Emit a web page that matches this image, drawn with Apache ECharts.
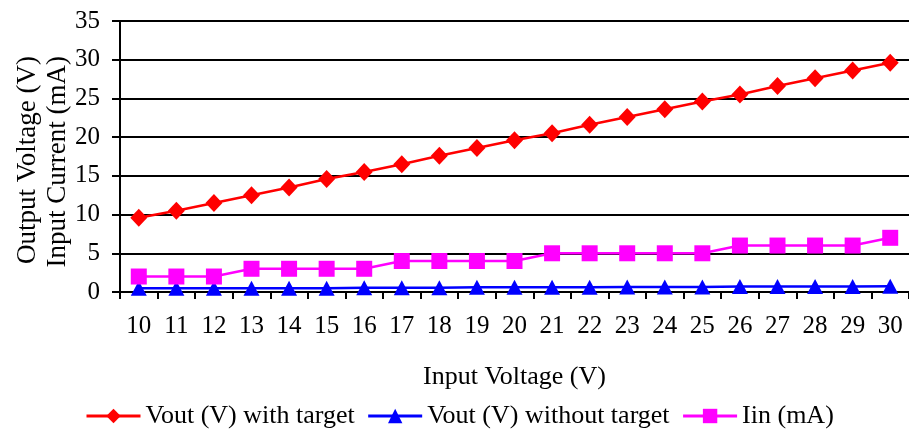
<!DOCTYPE html>
<html>
<head>
<meta charset="utf-8">
<script src="https://cdn.jsdelivr.net/npm/echarts@6/dist/echarts.min.js"></script>
<style>
html,body{margin:0;padding:0;background:#fff;}
#c{width:909px;height:430px;}
</style>
</head>
<body>
<div id="c"></div>
<script>
const categories = ['10','11','12','13','14','15','16','17','18','19','20','21','22','23','24','25','26','27','28','29','30'];
const voutWithTarget = [9.6,10.5,11.5,12.5,13.5,14.6,15.5,16.5,17.6,18.6,19.6,20.5,21.6,22.6,23.6,24.6,25.5,26.6,27.6,28.6,29.6];
const voutWithoutTarget = [0.5,0.5,0.5,0.5,0.5,0.5,0.55,0.55,0.55,0.6,0.6,0.6,0.6,0.65,0.65,0.65,0.7,0.7,0.7,0.7,0.75];
const iin = [2,2,2,3,3,3,3,4,4,4,4,5,5,5,5,5,6,6,6,6,7];
const seriesNames = ['Vout (V) with target','Vout (V) without target','Iin (mA)'];
const yTitle1 = 'Output Voltage (V)';
const yTitle2 = 'Input Current (mA)';
const xTitle = 'Input Voltage (V)';

const FONT = 'Liberation Serif';
const chart = echarts.init(document.getElementById('c'), null, {renderer:'canvas'});
chart.setOption({
  animation:false,
  backgroundColor:'#fff',
  textStyle:{fontFamily:FONT,color:'#000'},
  grid:{left:120, top:21, width:795, height:271, containLabel:false},
  xAxis:{
    type:'category', data:categories, boundaryGap:true,
    axisLine:{lineStyle:{color:'#000',width:2}},
    axisTick:{show:true,length:7,lineStyle:{color:'#000',width:2}},
    axisLabel:{fontFamily:FONT,fontSize:25,color:'#000',margin:22,interval:0},
    splitLine:{show:false},
    name:xTitle, nameLocation:'middle', nameGap:72,
    nameTextStyle:{fontFamily:FONT,fontSize:26,color:'#000'}
  },
  yAxis:{
    type:'value', min:0, max:35, interval:5,
    axisLine:{show:true,lineStyle:{color:'#000',width:2}},
    axisTick:{show:true,length:8,lineStyle:{color:'#000',width:2}},
    axisLabel:{fontFamily:FONT,fontSize:25,color:'#000',margin:20},
    splitLine:{show:true,lineStyle:{color:'#000',width:2}}
  },
  graphic:[
    {type:'text', x:28, y:56, rotation:Math.PI/2,
     style:{text:yTitle1, fontFamily:FONT, fontSize:27, fill:'#000', align:'right', verticalAlign:'middle'}},
    {type:'text', x:58, y:56, rotation:Math.PI/2,
     style:{text:yTitle2, fontFamily:FONT, fontSize:27, fill:'#000', align:'right', verticalAlign:'middle'}}
  ],
  legend:{
    left:80, top:398, itemWidth:54, itemHeight:18, itemGap:12,
    lineStyle:{width:3},
    textStyle:{fontFamily:FONT,fontSize:26,color:'#000'},
    data:seriesNames
  },
  series:[
    {name:seriesNames[0], type:'line', data:voutWithTarget, symbol:'diamond', symbolSize:[17,18],
     lineStyle:{color:'#ff0000',width:2.5}, itemStyle:{color:'#ff0000'}},
    {name:seriesNames[1], type:'line', data:voutWithoutTarget, symbol:'triangle', symbolSize:[16,15],
     lineStyle:{color:'#0000ff',width:2.5}, itemStyle:{color:'#0000ff'}},
    {name:seriesNames[2], type:'line', data:iin, symbol:'rect', symbolSize:16,
     lineStyle:{color:'#ff00ff',width:2.5}, itemStyle:{color:'#ff00ff'}}
  ]
});
</script>
</body>
</html>
